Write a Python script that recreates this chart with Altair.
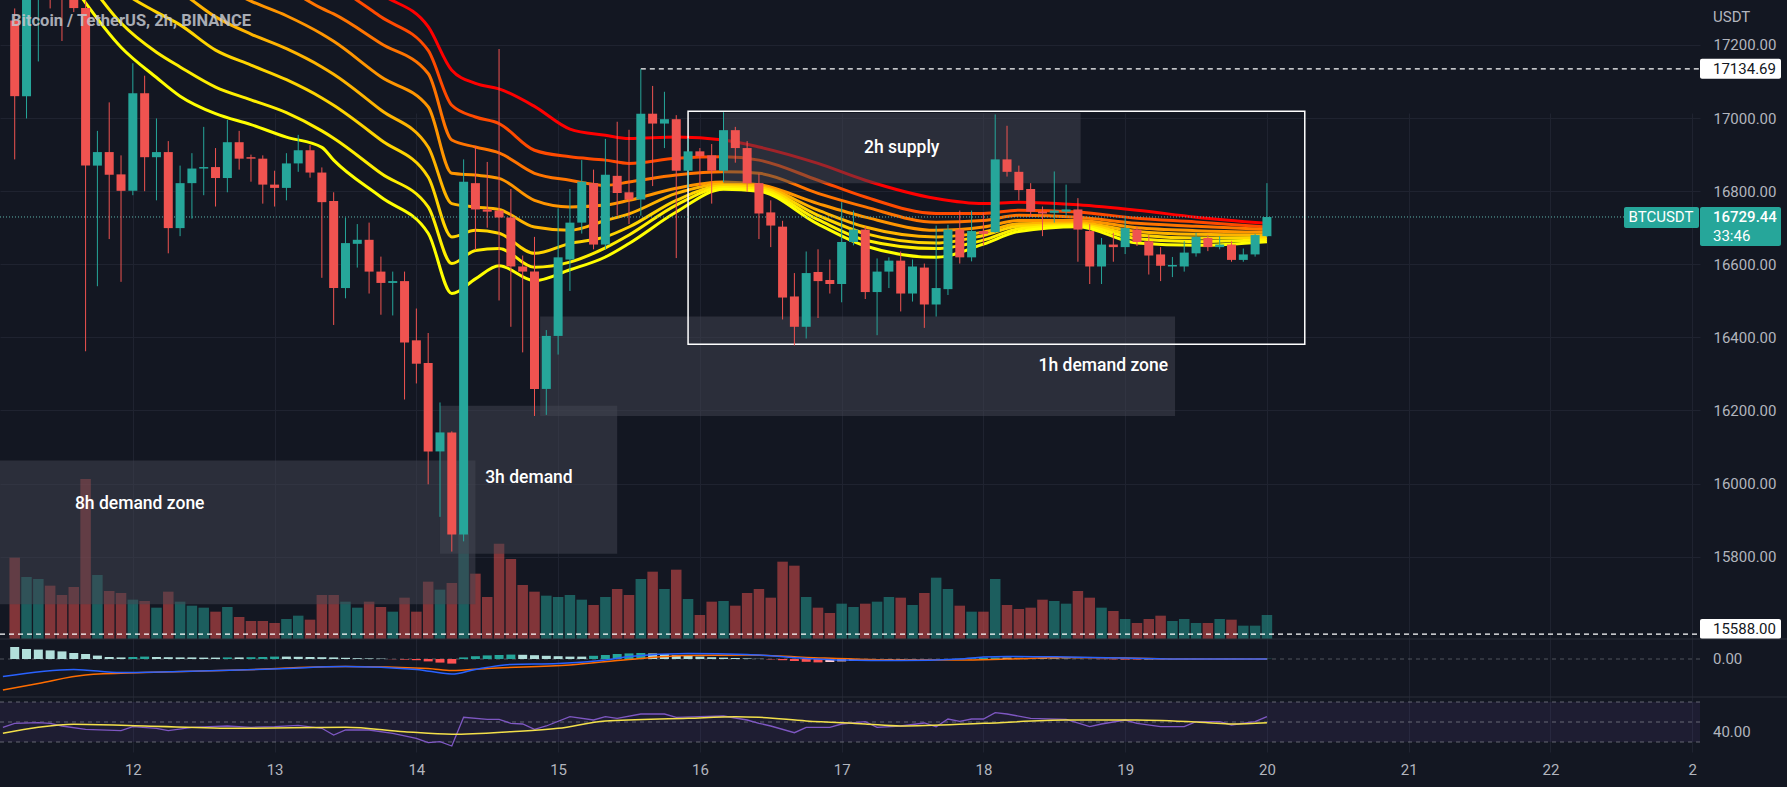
import altair as alt
import pandas as pd

# ------------------------------------------------------------------ data
# 2h candles, oldest -> newest (last candle = 20th 00:00)
opens = [17267, 17060, 17360, 17480, 17400, 17350, 17301, 16870, 16907, 16846,
         16801, 17068, 16893, 16907, 16699, 16822, 16862, 16866, 16836, 16934,
         16893, 16889, 16818, 16809, 16876, 16912, 16851, 16773, 16535, 16656,
         16667, 16580, 16549, 16554, 16392, 16330, 16088, 16140, 15861, 16822,
         16750, 16747, 16728, 16594, 16580, 16259, 16404, 16613, 16714, 16822,
         16654, 16842, 16797, 16777, 17012, 16985, 16997, 16856, 16909, 16898,
         16856, 16967, 16918, 16822, 16742, 16703, 16512, 16429, 16579, 16557,
         16546, 16661, 16695, 16524, 16580, 16610, 16520, 16591, 16490, 16532,
         16695, 16619, 16691, 16688, 16887, 16853, 16806, 16744, 16741, 16744,
         16750, 16691, 16594, 16654, 16647, 16695, 16663, 16627, 16594, 16594,
         16630, 16672, 16647, 16654, 16612, 16627, 16677]
closes = [17060, 17380, 17450, 17400, 17350, 17301, 16870, 16907, 16845, 16801,
          17068, 16893, 16907, 16699, 16822, 16862, 16866, 16836, 16934, 16889,
          16889, 16818, 16809, 16876, 16912, 16851, 16770, 16535, 16658, 16667,
          16580, 16549, 16554, 16386, 16328, 16088, 16140, 15861, 16826, 16750,
          16744, 16728, 16594, 16580, 16259, 16404, 16619, 16714, 16826, 16654,
          16845, 16795, 16777, 17012, 16985, 16997, 16856, 16909, 16896, 16856,
          16967, 16918, 16822, 16739, 16706, 16509, 16429, 16576, 16554, 16546,
          16661, 16695, 16524, 16580, 16610, 16520, 16594, 16490, 16535, 16695,
          16619, 16691, 16683, 16887, 16853, 16803, 16744, 16739, 16747, 16750,
          16695, 16594, 16654, 16647, 16699, 16661, 16624, 16596, 16598, 16632,
          16675, 16647, 16654, 16612, 16627, 16680, 16729.44]
highs = [17300, 17450, 17500, 17520, 17420, 17380, 17320, 16965, 17043, 16898,
         17150, 17116, 16999, 16937, 16870, 16904, 16976, 16918, 16995, 16965,
         16900, 16898, 16856, 16904, 16954, 16926, 16865, 16797, 16728, 16710,
         16714, 16621, 16580, 16580, 16479, 16412, 16222, 16143, 16887, 16923,
         16880, 17189, 16806, 16624, 16675, 16420, 16753, 16806, 16885, 16859,
         16943, 16990, 16968, 17134, 17088, 17072, 17008, 16945, 16918, 16929,
         17016, 16976, 16937, 16848, 16775, 16719, 16576, 16635, 16641, 16613,
         16770, 16747, 16703, 16616, 16619, 16635, 16613, 16602, 16706, 16708,
         16747, 16747, 16742, 17010, 16979, 16870, 16822, 16758, 16854, 16818,
         16781, 16710, 16672, 16686, 16730, 16703, 16680, 16647, 16620, 16663,
         16686, 16680, 16677, 16663, 16643, 16683, 16822]
lows = [16887, 16999, 17155, 17300, 17211, 17290, 16362, 16540, 16669, 16552,
        16789, 16800, 16775, 16630, 16677, 16725, 16789, 16758, 16797, 16859,
        16826, 16766, 16758, 16775, 16853, 16837, 16563, 16434, 16507, 16591,
        16520, 16462, 16460, 16230, 16274, 15998, 15909, 15814, 15842, 16639,
        16700, 16501, 16429, 16359, 16185, 16188, 16353, 16527, 16684, 16641,
        16641, 16733, 16710, 16733, 16814, 16918, 16617, 16809, 16814, 16766,
        16825, 16878, 16798, 16669, 16647, 16449, 16378, 16397, 16453, 16520,
        16496, 16652, 16505, 16406, 16535, 16471, 16498, 16426, 16457, 16516,
        16602, 16608, 16652, 16686, 16840, 16775, 16730, 16677, 16714, 16733,
        16607, 16546, 16546, 16607, 16628, 16650, 16572, 16554, 16565, 16580,
        16621, 16636, 16641, 16607, 16607, 16621, 16675]
volumes = [12.2, 9.3, 9.0, 8.0, 6.6, 7.8, 24.0, 9.6, 7.2, 6.9,
           5.9, 5.7, 4.7, 7.1, 5.6, 5.0, 4.7, 4.1, 4.8, 3.3,
           2.7, 2.7, 2.4, 3.0, 3.5, 2.9, 6.6, 6.6, 5.6, 4.7,
           5.6, 4.8, 4.1, 6.2, 4.1, 8.6, 7.4, 8.4, 15.8, 9.8,
           6.3, 14.3, 12.0, 8.1, 7.1, 6.5, 6.3, 6.6, 5.9, 5.1,
           6.3, 7.5, 6.6, 9.0, 10.1, 7.5, 10.4, 6.0, 3.6, 5.6,
           5.7, 5.0, 6.9, 7.5, 6.2, 11.6, 11.0, 6.3, 4.7, 3.9,
           5.3, 4.8, 5.3, 5.6, 6.3, 6.2, 5.1, 6.9, 9.2, 7.5,
           5.0, 4.1, 4.1, 9.0, 5.1, 4.5, 4.7, 5.9, 5.7, 5.3,
           7.2, 6.2, 4.7, 4.2, 3.0, 2.4, 3.0, 3.5, 2.7, 3.0,
           2.4, 2.4, 3.0, 2.9, 2.0, 2.0, 3.6]

# MACD histogram (per candle) and sampled MACD / signal lines
macd_hist = [60, 50, 47, 43, 38, 30, 25, 17, 10, 8,
             10, 12, 10, 9, 8, 8, 7, 7, 8, 8,
             9, 10, 12, 12, 11, 10, 9, 8, 6, 4,
             3, 2, -1, -3, -6, -12, -18, -23, 8, 14,
             18, 20, 22, 21, 19, 16, 14, 12, 12, 16,
             20, 25, 28, 30, 28, 25, 20, 16, 12, 9,
             7, 5, 3, 1, -2, -6, -10, -14, -17, -15,
             -12, -9, -7, -6, -5, -4, -3, -2, -1, 0,
             2, 4, 6, 7, 7, 6, 5, 4, 3, 2,
             1, 0, -1, -2, -3, -3, -2, -2, -1, -1,
             -1, 0, 0, 0, 0, 0, 1]
macd_idx = [-1, 5, 9, 14, 19, 23, 28, 34, 37, 39, 42, 46, 50, 52, 57, 62, 67, 70, 75, 80, 82, 84, 89, 94, 99, 106]
macd_line = [-88, -52, -68, -63, -55, -47, -38, -52, -75, -52, -27, -22, -5, 12, 28, 23, 3, -5, -8, 0, 10, 13, 10, 5, 0, 0]
signal_idx = [-1, 2, 6, 11, 19, 28, 35, 37, 40, 47, 52, 57, 62, 67, 75, 80, 84, 89, 94, 99, 106]
signal_line = [-155, -122, -80, -68, -55, -38, -47, -58, -47, -30, -2, 17, 20, 8, -5, -5, 0, 7, 5, 0, 0]

# RSI and its moving average (sampled)
rsi_idx = [-1, 0, 2, 3, 4, 6, 9, 10, 12, 13, 15, 18, 20, 22, 24, 26, 27, 28, 30, 32,
           34, 35, 36, 37, 38, 40, 41, 42, 43, 44, 45, 47, 49, 50, 51, 53, 55, 56, 58, 60,
           62, 63, 64, 66, 67, 69, 70, 72, 73, 75, 77, 78, 79, 80, 81, 82, 83, 84, 86, 89,
           91, 92, 94, 95, 97, 99, 100, 102, 103, 105, 106]
rsi_line = [44.7, 48.7, 49.3, 48.7, 46, 42.7, 41.3, 45.3, 43.7, 41.3, 44.7, 46, 44.7, 45.3, 46.7, 43.7, 37, 42, 42, 38.7,
            33.7, 29.3, 30.3, 26, 54.7, 52.7, 52.7, 48.7, 48, 42.7, 46, 55.3, 52, 55.3, 53.7, 58, 58, 54.7, 55.3, 56,
            52, 48.7, 46, 39.3, 44.7, 44.7, 48, 50.3, 44.7, 46, 49, 45.3, 53, 50.7, 53, 53, 59.3, 58, 53.7, 52.7,
            45.3, 48, 52, 48.7, 45.3, 45.3, 50.3, 50.3, 47, 50.3, 55.3]
rsi_ma_idx = [-1, 2, 5, 11, 19, 28, 33, 37, 42, 46, 50, 57, 61, 63, 67, 72, 75, 82, 89, 95, 101, 103, 106]
rsi_ma = [38.7, 44.7, 47.7, 46, 43.7, 44.7, 40.3, 37.7, 40.3, 43.7, 51, 53.7, 55.3, 54.7, 51, 48, 46, 48.7, 52, 52, 49.3, 48, 49.3]

# EMA ribbon (sampled), fastest (yellow) -> slowest (red)
ribbon_idx = [5, 9, 12, 14, 17, 20, 23, 26, 27, 31, 35, 37, 39, 41, 44, 47, 50, 52, 56, 60,
              63, 68, 72, 78, 82, 85, 90, 95, 100, 106]
ema1 = [17360, 17194, 17111, 17060, 17012, 16982, 16948, 16920, 16885, 16784, 16685, 16520, 16560, 16596, 16555, 16585, 16620, 16657, 16743, 16805,
        16800, 16710, 16650, 16619, 16655, 16690, 16703, 16658, 16652, 16662]
ema2 = [17430, 17260, 17180, 17140, 17085, 17050, 17015, 16965, 16945, 16849, 16757, 16602, 16638, 16643, 16592, 16606, 16645, 16680, 16762, 16810,
        16805, 16722, 16666, 16643, 16666, 16697, 16706, 16670, 16662, 16667]
ema3 = [17500, 17350, 17290, 17255, 17186, 17145, 17105, 17055, 17035, 16940, 16839, 16675, 16693, 16685, 16630, 16657, 16675, 16702, 16775, 16815,
        16810, 16734, 16684, 16658, 16679, 16704, 16709, 16680, 16672, 16673]
ema4 = [17560, 17430, 17380, 17345, 17277, 17230, 17190, 17140, 17120, 17022, 16921, 16766, 16757, 16750, 16702, 16693, 16720, 16738, 16794, 16820,
        16814, 16748, 16702, 16675, 16688, 16711, 16713, 16690, 16682, 16680]
ema5 = [17620, 17510, 17460, 17430, 17370, 17320, 17280, 17230, 17210, 17113, 17031, 16849, 16844, 16835, 16775, 16757, 16762, 16775, 16808, 16825,
        16818, 16766, 16729, 16693, 16702, 16720, 16720, 16700, 16692, 16688]
ema6 = [17680, 17580, 17530, 17500, 17445, 17400, 17355, 17300, 17285, 17204, 17122, 16940, 16921, 16905, 16849, 16830, 16816, 16825, 16844, 16853,
        16849, 16794, 16757, 16715, 16720, 16734, 16729, 16712, 16704, 16695]
ema7 = [17740, 17650, 17600, 17570, 17515, 17470, 17430, 17385, 17365, 17277, 17185, 17035, 17003, 16985, 16912, 16894, 16885, 16876, 16890, 16894,
        16885, 16830, 16784, 16739, 16739, 16748, 16743, 16726, 16716, 16702]
ema8 = [17800, 17720, 17670, 17640, 17590, 17545, 17505, 17460, 17440, 17340, 17250, 17131, 17095, 17080, 17032, 16970, 16953, 16944, 16948, 16940,
        16921, 16876, 16830, 16780, 16766, 16770, 16763, 16748, 16729, 16712]
ribbon_series = [ema1, ema2, ema3, ema4, ema5, ema6, ema7, ema8]
ribbon_colors = ["#ffff00", "#ffee00", "#ffd400", "#ffb400", "#ff9500", "#ff7400", "#ff4a00", "#ff0000"]

# drawn zones (time in day-of-month, price)
zone_t0 = [10.5, 14.1667, 14.873, 16.1667]
zone_t1 = [14.4167, 15.4167, 19.352, 18.686]
zone_top = [16063, 16213, 16457, 17014]
zone_bot = [15670, 15808, 16185, 16822]
zone_labels = ["8h demand zone", "3h demand", "2h supply"]
zone_label_t = [12.0484, 14.7939, 17.4237]
zone_label_p = [15944, 16016, 16918]
right_label = ["1h demand zone"]
right_label_t = [19.3031]
right_label_p = [16322]
range_box_t = [15.9167, 20.267]
range_box_p = [17019, 16381]

high_line_price = 17134.69
high_line_t = 15.5833
low_line_price = 15588.00
last_price = 16729.44
countdown = "33:46"
symbol = "BTCUSDT"
title_text = "Bitcoin / TetherUS, 2h, BINANCE"
day_ticks = list(range(12, 24))
price_ticks = [15800, 16000, 16200, 16400, 16600, 16800, 17000, 17200]
rsi_levels = [70, 50, 30]

# ------------------------------------------------------------------ helpers
N = len(closes)


def t_of(i):
    return 20.0 - (N - 1 - i) / 12.0


UP, DOWN = "#26a69a", "#ef5350"
BG = "#131722"
TXT = "#b2b5be"
GRID = "#1f2330"
FONT = "Roboto"
P_TOP, P_BOT = 17323.1, 15574.8
PX = (P_TOP - P_BOT) / 639.0   # price units per pixel

XS = alt.Scale(domain=[11.0982, 23.0197], nice=False, zero=False)
PS = alt.Scale(domain=[P_BOT, P_TOP], range=[639, 0], nice=False, zero=False)
VS = alt.Scale(domain=[0, 95.85], range=[639, 0], nice=False, zero=False)
MS = alt.Scale(domain=[-190, 100], range=[697, 639], nice=False, zero=False)
RS = alt.Scale(domain=[20, 75], range=[752, 697], nice=False, zero=False)

X_AXIS = alt.Axis(
    values=day_ticks, format="d", labelExpr="datum.value == 23 ? '2' : datum.label",
    grid=True, gridColor=GRID, domain=False, ticks=False, labelPadding=10,
    labelFontSize=15, labelColor=TXT, labelFont=FONT, title=None, orient="bottom",
    labelFlush=False, labelOverlap=False)


def X(field="t"):
    # every layer carries the same axis definition so the shared axis merges cleanly
    return alt.X(f"{field}:Q", scale=XS, axis=X_AXIS)


cdf = pd.DataFrame({
    "t": [t_of(i) for i in range(N)],
    "open": opens, "high": highs, "low": lows, "close": closes, "vol": volumes,
})
cdf["col"] = [UP if c >= o else DOWN for o, c in zip(opens, closes)]

hcol = []
for j, h in enumerate(macd_hist):
    prev = macd_hist[j - 1] if j > 0 else h
    if h >= 0:
        hcol.append("#26a69a" if h > prev else "#b2dfdb")
    else:
        hcol.append("#ffcdd2" if h > prev else "#ff5252")
hdf = pd.DataFrame({"t": [t_of(i) for i in range(N)], "h": macd_hist, "col": hcol})

# ------------------------------------------------------------------ axes-only layer
axdf = pd.DataFrame({"t": day_ticks[:len(price_ticks)], "p": price_ticks})
axes_layer = alt.Chart(axdf).mark_point(opacity=0).encode(
    x=X(),
    y=alt.Y("p:Q", scale=PS, axis=alt.Axis(
        orient="right", values=price_ticks, format=".2f", grid=True, gridColor=GRID,
        domain=False, ticks=False, labelPadding=13, labelFontSize=15, labelColor=TXT,
        labelFont=FONT, title=None, labelOverlap=False, labelFlush=False)),
)

# ------------------------------------------------------------------ volume
volume = alt.Chart(cdf).mark_bar(size=10.5, opacity=0.5).encode(
    x=X(),
    y=alt.Y("vol:Q", scale=VS, axis=None),
    y2=alt.datum(0),
    color=alt.Color("col:N", scale=None),
)

# ------------------------------------------------------------------ price pane
price_layers = []
for k in range(len(ribbon_series) - 1, -1, -1):
    rdf = pd.DataFrame({"t": [t_of(i) for i in ribbon_idx], "p": ribbon_series[k]})
    price_layers.append(
        alt.Chart(rdf).mark_line(color=ribbon_colors[k], strokeWidth=3, clip=True, interpolate="monotone").encode(
            x=X(), y=alt.Y("p:Q", scale=PS, axis=None)
        )
    )

zdf = pd.DataFrame({"t0": zone_t0, "t1": zone_t1, "top": zone_top, "bot": zone_bot})
price_layers.append(
    alt.Chart(zdf).mark_rect(fill="#434651", opacity=0.5, clip=True).encode(
        x=X("t0"), x2="t1", y=alt.Y("top:Q", scale=PS, axis=None), y2="bot"
    )
)
rbdf = pd.DataFrame({"t0": [range_box_t[0]], "t1": [range_box_t[1]], "top": [range_box_p[0]], "bot": [range_box_p[1]]})
price_layers.append(
    alt.Chart(rbdf).mark_rect(filled=False, stroke="#ffffff", strokeWidth=1.5).encode(
        x=X("t0"), x2="t1", y=alt.Y("top:Q", scale=PS, axis=None), y2="bot"
    )
)

# dotted last-price line + dashed levels
price_layers.append(
    alt.Chart(pd.DataFrame({"p": [last_price]})).mark_rule(color="#5fb3aa", strokeDash=[1, 2], strokeWidth=1).encode(
        y=alt.Y("p:Q", scale=PS, axis=None), x=alt.value(0), x2=alt.value(1624)
    )
)
price_layers.append(
    alt.Chart(pd.DataFrame({"p": [low_line_price]})).mark_rule(color="#ffffff", strokeDash=[5, 4], strokeWidth=1.2).encode(
        y=alt.Y("p:Q", scale=PS, axis=None), x=alt.value(0), x2=alt.value(1700)
    )
)
price_layers.append(
    alt.Chart(pd.DataFrame({"p": [high_line_price], "t": [high_line_t]})).mark_rule(color="#ffffff", strokeDash=[5, 4], strokeWidth=1.2).encode(
        y=alt.Y("p:Q", scale=PS, axis=None), x=X(), x2=alt.value(1700)
    )
)

# candles
price_layers.append(
    alt.Chart(cdf).mark_rule(strokeWidth=1, clip=True).encode(
        x=X(), y=alt.Y("low:Q", scale=PS, axis=None), y2="high", color=alt.Color("col:N", scale=None)
    )
)
price_layers.append(
    alt.Chart(cdf).mark_bar(size=9, clip=True).encode(
        x=X(), y=alt.Y("open:Q", scale=PS, axis=None), y2="close", color=alt.Color("col:N", scale=None)
    )
)

# zone labels
ldf = pd.DataFrame({"t": zone_label_t, "p": zone_label_p, "txt": zone_labels})
price_layers.append(
    alt.Chart(ldf).mark_text(color="#ffffff", font=FONT, fontSize=17.5, fontWeight=500, align="center", baseline="middle").encode(
        x=X(), y=alt.Y("p:Q", scale=PS, axis=None), text="txt:N"
    )
)
rldf = pd.DataFrame({"t": right_label_t, "p": right_label_p, "txt": right_label})
price_layers.append(
    alt.Chart(rldf).mark_text(color="#ffffff", font=FONT, fontSize=17.5, fontWeight=500, align="right", baseline="middle").encode(
        x=X(), y=alt.Y("p:Q", scale=PS, axis=None), text="txt:N"
    )
)

# price-scale label boxes
boxes = pd.DataFrame({
    "top": [high_line_price + 10 * PX, last_price + 10 * PX, last_price + 10 * PX, P_BOT + 20 * PX],
    "bot": [high_line_price - 10 * PX, last_price - 29 * PX, last_price - 11 * PX, P_BOT],
    "x0": [1700, 1700, 1624, 1700],
    "x1": [1781, 1781, 1699, 1781],
    "fill": ["#ffffff", UP, UP, "#ffffff"],
})
for _, r in boxes.iterrows():
    price_layers.append(
        alt.Chart(pd.DataFrame({"top": [r["top"]], "bot": [r["bot"]]})).mark_rect(fill=r["fill"], cornerRadius=2).encode(
            y=alt.Y("top:Q", scale=PS, axis=None), y2="bot", x=alt.value(int(r["x0"])), x2=alt.value(int(r["x1"]))
        )
    )

tl = pd.DataFrame({
    "p": [high_line_price, last_price - 19 * PX, P_BOT + 10 * PX],
    "txt": [f"{high_line_price:.2f}", countdown, f"{low_line_price:.2f}"],
    "col": [BG, "#ffffff", BG],
})
price_layers.append(
    alt.Chart(tl).mark_text(font=FONT, fontSize=15, align="left", baseline="middle").encode(
        y=alt.Y("p:Q", scale=PS, axis=None), x=alt.value(1713), text="txt:N", color=alt.Color("col:N", scale=None)
    )
)
price_layers.append(
    alt.Chart(pd.DataFrame({"p": [last_price], "txt": [f"{last_price:.2f}"]})).mark_text(
        font=FONT, fontSize=15, fontWeight=500, align="left", baseline="middle", color="#ffffff").encode(
        y=alt.Y("p:Q", scale=PS, axis=None), x=alt.value(1713), text="txt:N"
    )
)
price_layers.append(
    alt.Chart(pd.DataFrame({"p": [last_price], "txt": [symbol]})).mark_text(
        font=FONT, fontSize=15, align="center", baseline="middle", color="#ffffff").encode(
        y=alt.Y("p:Q", scale=PS, axis=None), x=alt.value(1661), text="txt:N"
    )
)
price_layers.append(
    alt.Chart(pd.DataFrame({"txt": ["USDT"]})).mark_text(
        font=FONT, fontSize=15, align="left", baseline="middle", color=TXT).encode(
        x=alt.value(1713), y=alt.value(17), text="txt:N"
    )
)
price_layers.append(
    alt.Chart(pd.DataFrame({"txt": [title_text]})).mark_text(
        font=FONT, fontSize=16.5, fontWeight="bold", align="left", baseline="middle", color="#c3c6ce", opacity=0.85).encode(
        x=alt.value(11), y=alt.value(21), text="txt:N"
    )
)
price_group = alt.layer(*price_layers)

# ------------------------------------------------------------------ MACD pane
macd_layers = [
    alt.Chart(pd.DataFrame({"v": [100]})).mark_rule(color="#2a2e39", strokeWidth=1).encode(
        y=alt.Y("v:Q", scale=MS, axis=None), x=alt.value(0), x2=alt.value(1787)),
    alt.Chart(pd.DataFrame({"v": [0]})).mark_rule(color="#787b86", strokeDash=[4, 4], opacity=0.6).encode(
        y=alt.Y("v:Q", scale=MS, axis=None), x=alt.value(0), x2=alt.value(1700)),
    alt.Chart(hdf).mark_bar(size=9, clip=True).encode(
        x=X(), y=alt.Y("h:Q", scale=MS, axis=None), y2=alt.datum(0), color=alt.Color("col:N", scale=None)),
    alt.Chart(pd.DataFrame({"t": [t_of(i) for i in signal_idx], "v": signal_line})).mark_line(
        color="#ff6d00", strokeWidth=1.5, clip=True, interpolate="monotone").encode(x=X(), y=alt.Y("v:Q", scale=MS, axis=None)),
    alt.Chart(pd.DataFrame({"t": [t_of(i) for i in macd_idx], "v": macd_line})).mark_line(
        color="#2962ff", strokeWidth=1.5, clip=True, interpolate="monotone").encode(x=X(), y=alt.Y("v:Q", scale=MS, axis=None)),
    alt.Chart(pd.DataFrame({"v": [0], "txt": ["0.00"]})).mark_text(
        font=FONT, fontSize=15, align="left", baseline="middle", color=TXT).encode(
        y=alt.Y("v:Q", scale=MS, axis=None), x=alt.value(1713), text="txt:N"),
]
macd_group = alt.layer(*macd_layers)

# ------------------------------------------------------------------ RSI pane
rsi_layers = [
    alt.Chart(pd.DataFrame({"v": [75]})).mark_rule(color="#2a2e39", strokeWidth=1).encode(
        y=alt.Y("v:Q", scale=RS, axis=None), x=alt.value(0), x2=alt.value(1787)),
    alt.Chart(pd.DataFrame({"a": [rsi_levels[0]], "b": [rsi_levels[-1]]})).mark_rect(fill="#7e57c2", opacity=0.1).encode(
        y=alt.Y("a:Q", scale=RS, axis=None), y2="b", x=alt.value(0), x2=alt.value(1700)),
    alt.Chart(pd.DataFrame({"v": rsi_levels})).mark_rule(color="#787b86", strokeDash=[4, 4], opacity=0.8).encode(
        y=alt.Y("v:Q", scale=RS, axis=None), x=alt.value(0), x2=alt.value(1700)),
    alt.Chart(pd.DataFrame({"t": [t_of(i) for i in rsi_idx], "v": rsi_line})).mark_line(
        color="#7e57c2", strokeWidth=1.3, clip=True).encode(x=X(), y=alt.Y("v:Q", scale=RS, axis=None)),
    alt.Chart(pd.DataFrame({"t": [t_of(i) for i in rsi_ma_idx], "v": rsi_ma})).mark_line(
        color="#f3e04a", strokeWidth=1.5, clip=True, interpolate="monotone").encode(x=X(), y=alt.Y("v:Q", scale=RS, axis=None)),
    alt.Chart(pd.DataFrame({"v": [40], "txt": ["40.00"]})).mark_text(
        font=FONT, fontSize=15, align="left", baseline="middle", color=TXT).encode(
        y=alt.Y("v:Q", scale=RS, axis=None), x=alt.value(1713), text="txt:N"),
]
rsi_group = alt.layer(*rsi_layers)

chart = alt.layer(axes_layer, volume, price_group, macd_group, rsi_group).resolve_scale(
    y="independent"
).properties(
    width=1700, height=752,
    padding={"left": 0, "top": 0, "right": 87, "bottom": 35},
    autosize=alt.AutoSizeParams(type="none"),
).configure(background=BG, font=FONT).configure_view(stroke=None)

chart.save("out.html", embed_options={"renderer": "svg", "actions": False})
